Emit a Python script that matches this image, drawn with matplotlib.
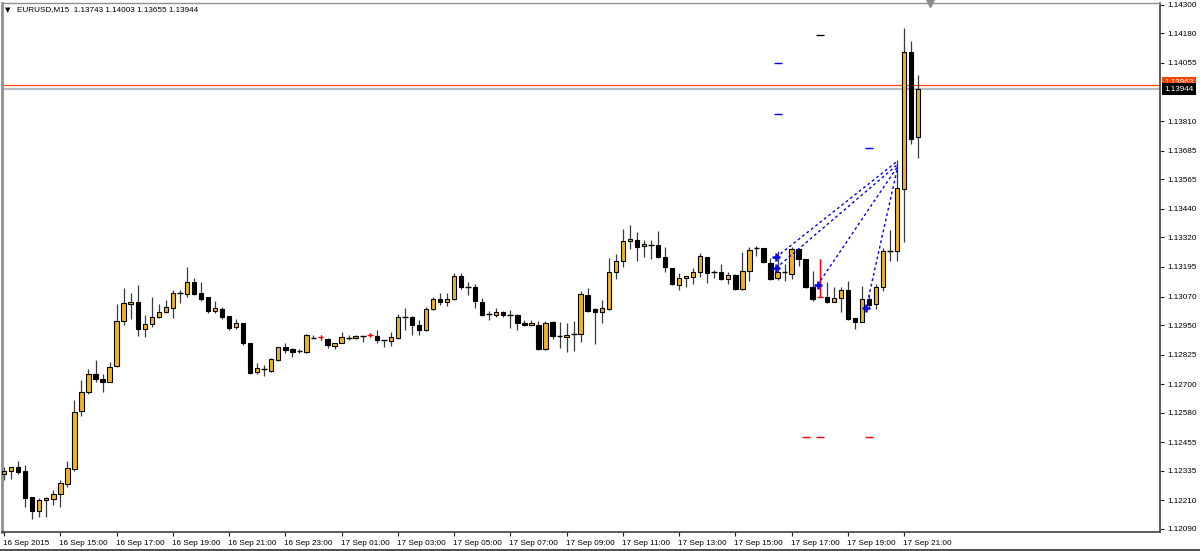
import numpy as np
import pandas as pd
import matplotlib
matplotlib.use("Agg")
import matplotlib.pyplot as plt
import matplotlib.transforms as mtransforms
from matplotlib.patches import Rectangle

plt.rcParams["font.family"] = ["Liberation Sans", "DejaVu Sans"]

# EURUSD M15 bars, 16 Sep 2015 13:00 -> 17 Sep 2015 21:30
opens = [
    1.12322, 1.12333, 1.12353, 1.12335, 1.12224, 1.12166, 1.12212, 1.12215, 1.12237, 1.12280,
    1.12343, 1.12589, 1.12667, 1.12744, 1.12723, 1.12711, 1.12775, 1.12967, 1.13038, 1.13049,
    1.12934, 1.12953, 1.12985, 1.13004, 1.13023, 1.13084, 1.13081, 1.13131, 1.13084, 1.13066,
    1.13007, 1.13017, 1.12988, 1.12941, 1.12958, 1.12876, 1.12753, 1.12764, 1.12758, 1.12803,
    1.12856, 1.12848, 1.12841, 1.12838, 1.12897, 1.12899, 1.12893, 1.12862, 1.12876, 1.12897,
    1.12897, 1.12904, 1.12908, 1.12904, 1.12887, 1.12884, 1.12897, 1.12983, 1.12983, 1.12949,
    1.12929, 1.13018, 1.13060, 1.13049, 1.13059, 1.13157, 1.13112, 1.13109, 1.13049, 1.12997,
    1.12991, 1.13004, 1.12993, 1.12993, 1.12958, 1.12950, 1.12951, 1.12848, 1.12962, 1.12904,
    1.12899, 1.12912, 1.12912, 1.13077, 1.13018, 1.13004, 1.13018, 1.13175, 1.13220, 1.13305,
    1.13309, 1.13282, 1.13288, 1.13288, 1.13238, 1.13190, 1.13119, 1.13150, 1.13152, 1.13173,
    1.13238, 1.13173, 1.13173, 1.13143, 1.13161, 1.13102, 1.13178, 1.13274, 1.13274, 1.13213,
    1.13147, 1.13175, 1.13164, 1.13270, 1.13228, 1.13112, 1.13066, 1.13067, 1.13049, 1.13063,
    1.13098, 1.12979, 1.12962, 1.13060, 1.13038, 1.13109, 1.13260, 1.13260, 1.13523, 1.14101,
    1.13743,
]
highs = [
    1.12353, 1.12353, 1.12378, 1.12360, 1.12224, 1.12221, 1.12226, 1.12254, 1.12297, 1.12377,
    1.12634, 1.12718, 1.12765, 1.12803, 1.12744, 1.12793, 1.13038, 1.13105, 1.13087, 1.13119,
    1.12993, 1.13067, 1.13038, 1.13056, 1.13098, 1.13098, 1.13194, 1.13147, 1.13133, 1.13070,
    1.13052, 1.13025, 1.12988, 1.12975, 1.12958, 1.12876, 1.12789, 1.12782, 1.12810, 1.12859,
    1.12873, 1.12852, 1.12848, 1.12912, 1.12908, 1.12907, 1.12897, 1.12876, 1.12921, 1.12908,
    1.12908, 1.12904, 1.12918, 1.12929, 1.12887, 1.12922, 1.12997, 1.13021, 1.12988, 1.12972,
    1.13028, 1.13070, 1.13087, 1.13087, 1.13171, 1.13171, 1.13133, 1.13123, 1.13063, 1.13011,
    1.13021, 1.13007, 1.13014, 1.12997, 1.12972, 1.12972, 1.12967, 1.12967, 1.12967, 1.12964,
    1.12958, 1.12967, 1.13094, 1.13105, 1.13023, 1.13056, 1.13232, 1.13249, 1.13355, 1.13372,
    1.13341, 1.13309, 1.13309, 1.13347, 1.13278, 1.13192, 1.13169, 1.13157, 1.13190, 1.13255,
    1.13238, 1.13182, 1.13206, 1.13173, 1.13164, 1.13257, 1.13280, 1.13284, 1.13274, 1.13232,
    1.13260, 1.13208, 1.13281, 1.13274, 1.13228, 1.13179, 1.13228, 1.13131, 1.13109, 1.13109,
    1.13136, 1.12981, 1.13116, 1.13077, 1.13123, 1.13274, 1.13351, 1.13646, 1.14202, 1.14149,
    1.14003,
]
lows = [
    1.12297, 1.12300, 1.12322, 1.12184, 1.12133, 1.12142, 1.12142, 1.12191, 1.12184, 1.12268,
    1.12336, 1.12568, 1.12659, 1.12711, 1.12669, 1.12709, 1.12772, 1.12950, 1.12974, 1.12905,
    1.12898, 1.12943, 1.12979, 1.13000, 1.12981, 1.13044, 1.13066, 1.13077, 1.13052, 1.13000,
    1.13000, 1.12975, 1.12929, 1.12932, 1.12866, 1.12744, 1.12744, 1.12735, 1.12753, 1.12800,
    1.12834, 1.12814, 1.12834, 1.12834, 1.12894, 1.12887, 1.12852, 1.12848, 1.12873, 1.12887,
    1.12891, 1.12880, 1.12899, 1.12876, 1.12856, 1.12862, 1.12891, 1.12929, 1.12908, 1.12908,
    1.12925, 1.13014, 1.13035, 1.13030, 1.13056, 1.13101, 1.13077, 1.13021, 1.12988, 1.12972,
    1.12985, 1.12985, 1.12937, 1.12929, 1.12946, 1.12946, 1.12845, 1.12845, 1.12891, 1.12852,
    1.12838, 1.12841, 1.12880, 1.13004, 1.12870, 1.12958, 1.13014, 1.13144, 1.13196, 1.13271,
    1.13220, 1.13238, 1.13229, 1.13234, 1.13173, 1.13119, 1.13098, 1.13112, 1.13122, 1.13152,
    1.13126, 1.13150, 1.13140, 1.13123, 1.13098, 1.13098, 1.13136, 1.13243, 1.13211, 1.13140,
    1.13140, 1.13137, 1.13143, 1.13199, 1.13105, 1.13053, 1.13066, 1.13042, 1.13046, 1.13004,
    1.12972, 1.12932, 1.12962, 1.13025, 1.13018, 1.13095, 1.13222, 1.13222, 1.13298, 1.13713,
    1.13655,
]
closes = [
    1.12336, 1.12353, 1.12332, 1.12222, 1.12167, 1.12212, 1.12221, 1.12238, 1.12285, 1.12348,
    1.12585, 1.12667, 1.12744, 1.12723, 1.12711, 1.12772, 1.12967, 1.13042, 1.13046, 1.12934,
    1.12953, 1.12985, 1.13005, 1.13025, 1.13084, 1.13084, 1.13133, 1.13081, 1.13060, 1.13011,
    1.13021, 1.12985, 1.12939, 1.12958, 1.12873, 1.12749, 1.12769, 1.12764, 1.12806, 1.12856,
    1.12845, 1.12837, 1.12841, 1.12907, 1.12897, 1.12899, 1.12865, 1.12873, 1.12899, 1.12897,
    1.12904, 1.12904, 1.12908, 1.12887, 1.12887, 1.12899, 1.12983, 1.12983, 1.12949, 1.12929,
    1.13019, 1.13059, 1.13047, 1.13060, 1.13157, 1.13112, 1.13112, 1.13053, 1.12993, 1.12997,
    1.13004, 1.12991, 1.12993, 1.12958, 1.12950, 1.12960, 1.12848, 1.12960, 1.12905, 1.12904,
    1.12908, 1.12912, 1.13081, 1.13011, 1.13004, 1.13021, 1.13175, 1.13220, 1.13305, 1.13313,
    1.13281, 1.13292, 1.13288, 1.13238, 1.13194, 1.13122, 1.13150, 1.13157, 1.13175, 1.13241,
    1.13169, 1.13173, 1.13144, 1.13161, 1.13101, 1.13178, 1.13267, 1.13274, 1.13215, 1.13144,
    1.13175, 1.13175, 1.13270, 1.13228, 1.13109, 1.13060, 1.13066, 1.13049, 1.13063, 1.13098,
    1.12975, 1.12962, 1.13060, 1.13035, 1.13112, 1.13260, 1.13260, 1.13527, 1.14103, 1.13734,
    1.13944,
]
red_doji = [45, 52, 116]

bar_times = pd.date_range("2015-09-16 13:00", periods=len(opens), freq="15min")

# signal arrows and dotted links (bar index, price)
arrow_bars = [109.8, 109.8, 115.7, 122.6]
arrow_prices = [1.13236, 1.13190, 1.13119, 1.13021]
link_bar = 127
link_prices = [1.13640, 1.13625, 1.13615, 1.13605]

# short level marks
blue_marks_bars = [110, 110, 123]
blue_marks_prices = [1.14055, 1.13840, 1.13697]
black_marks_bars = [116]
black_marks_prices = [1.14174]
red_marks_bars = [114, 116, 123]
red_marks_prices = [1.12478, 1.12478, 1.12478]

hline_price = 1.13963
bid_price = 1.13944

y_ticks = [1.14300, 1.14180, 1.14055, 1.13810, 1.13685, 1.13565, 1.13440, 1.13320, 1.13195,
           1.13070, 1.12950, 1.12825, 1.12700, 1.12580, 1.12455, 1.12335, 1.12210, 1.12090]
x_tick_labels = ["16 Sep 2015", "16 Sep 15:00", "16 Sep 17:00", "16 Sep 19:00", "16 Sep 21:00",
                 "16 Sep 23:00", "17 Sep 01:00", "17 Sep 03:00", "17 Sep 05:00", "17 Sep 07:00",
                 "17 Sep 09:00", "17 Sep 11:00", "17 Sep 13:00", "17 Sep 15:00", "17 Sep 17:00",
                 "17 Sep 19:00", "17 Sep 21:00"]

BULL = "#F0B323"
WICK = "#3a3a3a"
FS = 5.9

fig = plt.figure(figsize=(12, 5.51), dpi=100)
ax = fig.add_axes([2 / 1200, 19 / 551, 1158 / 1200, 529 / 551])

w = 0.62
for i in range(len(opens)):
    o, h, l, c = opens[i], highs[i], lows[i], closes[i]
    ax.vlines(i, l, h, color=WICK, lw=0.9, zorder=2)
    if c > o:
        ax.add_patch(Rectangle((i - w / 2, o), w, c - o, fc=BULL, ec="black", lw=0.8, zorder=3))
    elif c < o:
        ax.add_patch(Rectangle((i - w / 2, c), w, o - c, fc="black", ec="black", lw=0.8, zorder=3))
    else:
        col = "red" if i in red_doji else "black"
        ax.hlines(o, i - w / 2 - 0.1, i + w / 2 + 0.1, color=col, lw=1.0, zorder=3)
        if col == "red":
            ax.vlines(i, l, h, color="red", lw=0.9, zorder=3)

# dotted links from arrows
for b, p, lp in zip(arrow_bars, arrow_prices, link_prices):
    ax.plot([b, link_bar], [p, lp], color="#0000FF", lw=1.0, ls=(0, (2, 2)), zorder=4)
ax.plot(arrow_bars, arrow_prices, ls="none", marker="+", ms=6, mew=1.8, color="#0000FF", zorder=5)

ax.plot(blue_marks_bars, blue_marks_prices, ls="none", marker="_", ms=6, mew=1.0, color="#0000FF")
ax.plot(black_marks_bars, black_marks_prices, ls="none", marker="_", ms=6, mew=1.0, color="black")
ax.plot(red_marks_bars, red_marks_prices, ls="none", marker="_", ms=6, mew=1.0, color="red")

ax.axhline(hline_price, color="#FF4500", lw=0.9, zorder=1)
ax.axhline(bid_price, color="#B4BCC4", lw=1.6, zorder=1)

ax.set_xlim(-0.3, 164.4)
ax.set_ylim(1.12077, 1.14308)

# axes look
for side in ["top", "left"]:
    ax.spines[side].set_color("#909090")
ax.spines["left"].set_linewidth(2.0)
ax.spines["top"].set_linewidth(1.0)
ax.spines["right"].set_color("#404040")
ax.spines["bottom"].set_color("#404040")
ax.spines["right"].set_linewidth(1.2)
ax.spines["bottom"].set_linewidth(1.2)

ax.set_xticks(np.arange(0, len(opens), 8)[:len(x_tick_labels)])
ax.set_xticklabels(x_tick_labels, fontsize=FS, ha="left")
ax.tick_params(axis="x", direction="out", length=3, width=0.8, pad=2.5, color="#202020")
for lab in ax.get_xticklabels():
    lab.set_transform(lab.get_transform() + mtransforms.ScaledTranslation(-1 / 100, 0, fig.dpi_scale_trans))

ax.yaxis.tick_right()
ax.set_yticks(y_ticks)
ax.set_yticklabels([f"{v:.5f}" for v in y_ticks], fontsize=FS)
ax.tick_params(axis="y", direction="out", length=3, width=0.8, pad=2, color="#202020")

# price labels on the axis
tr = mtransforms.blended_transform_factory(ax.transAxes, ax.transData)
ax.text(1.004, hline_price + 0.00009, f"{hline_price:.5f}", transform=tr, fontsize=FS, color="white",
        va="center", ha="left", clip_on=False,
        bbox=dict(boxstyle="square,pad=0.3", fc="#FF4500", ec="none"))
ax.text(1.004, bid_price, f"{bid_price:.5f}", transform=tr, fontsize=FS, color="white",
        va="center", ha="left", clip_on=False,
        bbox=dict(boxstyle="square,pad=0.3", fc="black", ec="none"))

# chart-shift marker
ax.plot([131.7], [1.0], transform=mtransforms.blended_transform_factory(ax.transData, ax.transAxes),
        marker="v", ms=6, color="#8a8a8a", clip_on=False, zorder=6)

# header
fig.text(5 / 1200, 1 - 10 / 551, "\u25BC", fontsize=5, va="center", ha="left", family="DejaVu Sans")
fig.text(17 / 1200, 1 - 10 / 551, "EURUSD,M15  1.13743 1.14003 1.13655 1.13944", fontsize=FS,
         va="center", ha="left")

# window frame bottom
fig.add_artist(plt.Line2D([0, 1], [1.5 / 551, 1.5 / 551], color="#303030", lw=1.2))

fig.savefig("out.png", dpi=100)
